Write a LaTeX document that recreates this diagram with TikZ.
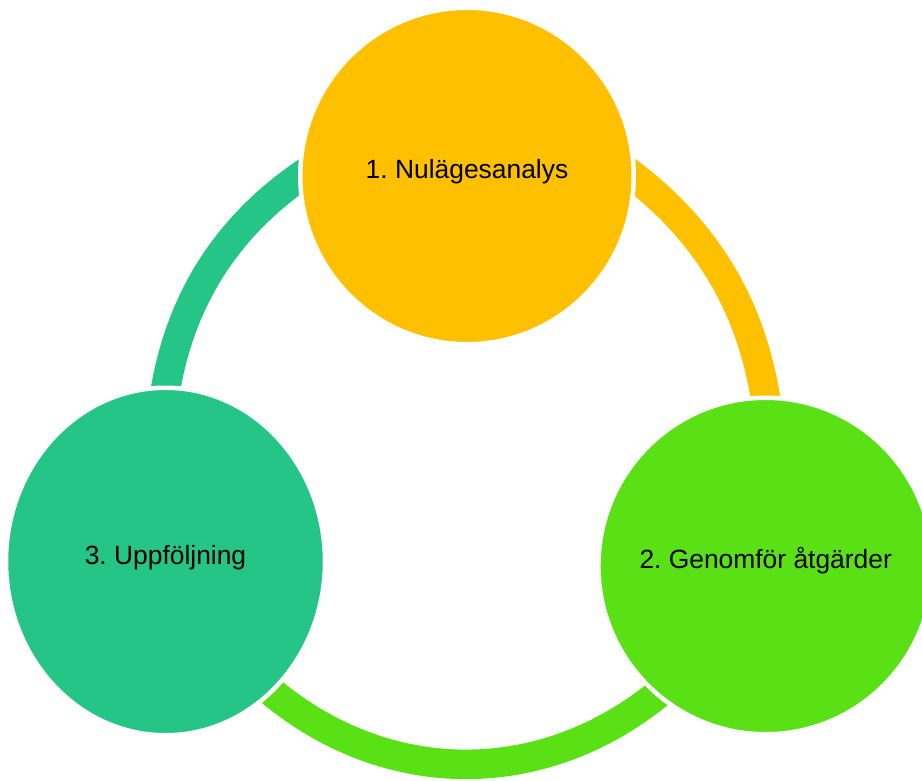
\documentclass[tikz,border=0pt]{standalone}
\usepackage{fontspec}
\setmainfont{Liberation Sans}
\usepackage{tikz}
\usetikzlibrary{shapes.geometric,backgrounds}

\definecolor{stageOrange}{RGB}{255,192,0}
\definecolor{stageGreen}{RGB}{89,225,22}
\definecolor{stageTeal}{RGB}{36,197,134}

\begin{document}
\frenchspacing
\begin{tikzpicture}[x=1pt,y=-1pt,
  stage/.style={ellipse,inner sep=0pt,outer sep=0pt,draw=white,line width=4.5pt},
  stagelabel/.style={inner sep=0pt,outer sep=0pt,anchor=base,text=black,font=\fontsize{26.4}{31.7}\selectfont},
  ringpart/.style={line width=29.5pt,shorten <=-15pt,shorten >=-15pt}]
\path[use as bounding box] (0,0) rectangle (922,780);
\node[stage,fill=stageOrange,minimum width=333.5pt,minimum height=336.5pt] (analys) at (467,176) {};
\node[stage,fill=stageGreen,minimum width=334.5pt,minimum height=336.5pt] (atgard) at (765.7,566) {};
\node[stage,fill=stageTeal,minimum width=319pt,minimum height=347.5pt] (uppf) at (165.5,561.5) {};
\node[stagelabel] (analysText) at ([yshift=-2.5pt]analys.center) {1. Nulägesanalys};
\node[stagelabel] (atgardText) at ([yshift=-2.5pt]atgard.center) {2. Genomför åtgärder};
\node[stagelabel] (uppfText) at ([yshift=-2.5pt]uppf.center) {3. Uppföljning};
\begin{scope}[on background layer]
\path[fill=white,draw=none] (0,0) rectangle (922,780);
\draw[ringpart,draw=stageOrange] (analys.east) to[bend left=23.5,looseness=0.89] (atgard.north);
\draw[ringpart,draw=stageGreen] (atgard.230) to[bend left=41.7,looseness=0.975] (uppf.309);
\draw[ringpart,draw=stageTeal] (uppf.north) to[bend left=24.5,looseness=0.89] (analys.west);
\end{scope}
\end{tikzpicture}
\end{document}
